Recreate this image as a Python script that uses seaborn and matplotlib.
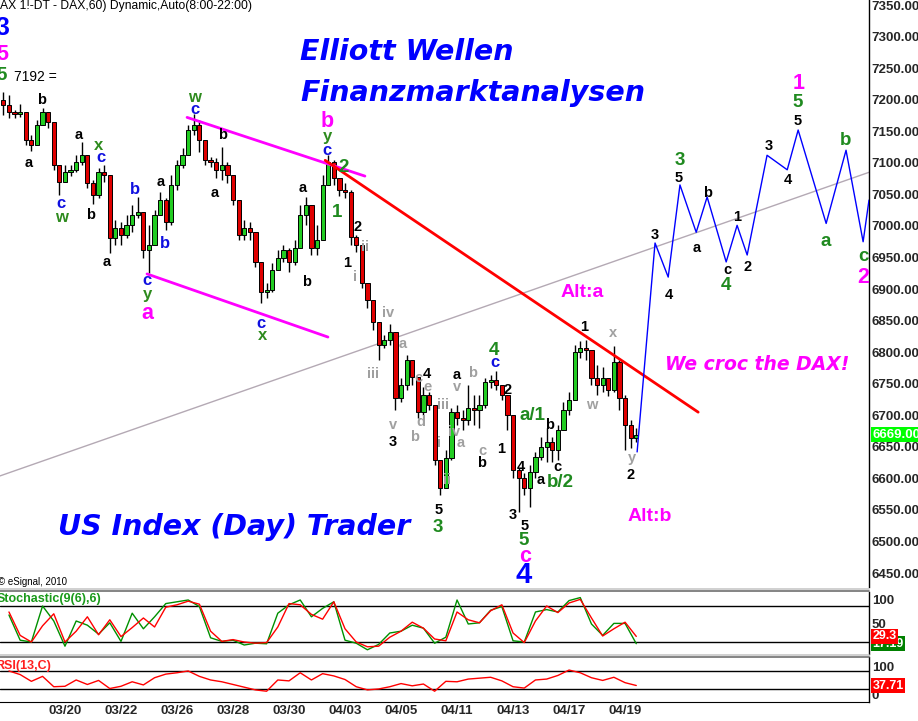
import numpy as np
import pandas as pd
import matplotlib
matplotlib.use("Agg")
import matplotlib.pyplot as plt
import matplotlib.transforms as mtransforms
from matplotlib.lines import Line2D
import seaborn as sns

sns.set_style("white")
plt.rcParams['font.family'] = ['Liberation Sans', 'DejaVu Sans']

# DAX 60 min, ausgedünnt auf 5 Kerzen pro Handelstag (Tag 0 = 16.03.)
first_bar_day = -0.2
bars_per_day = 5
first_open = 7200
closes = [7192, 7180, 7177, 7180, 7136, 7128, 7160, 7180, 7165, 7096,
          7070, 7085, 7089, 7101, 7112, 7068, 7049, 7085, 7081, 6981,
          6997, 6986, 7001, 7017, 7022, 6962, 6970, 7017, 7041, 7006,
          7065, 7096, 7112, 7152, 7160, 7136, 7104, 7101, 7089, 7096,
          7081, 7041, 6986, 6997, 6990, 6943, 6895, 6898, 6930, 6949,
          6962, 6943, 6965, 7017, 7033, 6965, 6978, 7065, 7101, 7076,
          7057, 7054, 6982, 6970, 6909, 6883, 6848, 6811, 6819, 6832,
          6727, 6748, 6787, 6761, 6705, 6732, 6716, 6629, 6585, 6632,
          6705, 6696, 6692, 6711, 6708, 6716, 6753, 6756, 6748, 6732,
          6700, 6613, 6600, 6585, 6610, 6634, 6650, 6658, 6645, 6677,
          6708, 6724, 6800, 6806, 6803, 6759, 6748, 6759, 6740, 6784,
          6727, 6684, 6664, 6669]
highs = [7212, 7207, 7184, 7193, 7176, 7144, 7168, 7187, 7177, 7160,
         7092, 7096, 7096, 7112, 7133, 7104, 7073, 7092, 7096, 7076,
         7009, 7006, 7017, 7033, 7046, 7017, 7001, 7025, 7054, 7044,
         7081, 7104, 7123, 7160, 7177, 7168, 7128, 7109, 7108, 7125,
         7101, 7081, 7041, 7009, 7006, 6990, 6943, 6909, 6941, 6962,
         6970, 6965, 6978, 7033, 7046, 7033, 7001, 7081, 7112, 7104,
         7076, 7068, 7057, 6986, 6970, 6909, 6875, 6843, 6827, 6844,
         6827, 6759, 6795, 6784, 6761, 6745, 6737, 6716, 6629, 6645,
         6711, 6716, 6708, 6748, 6732, 6732, 6759, 6764, 6770, 6748,
         6732, 6700, 6616, 6608, 6621, 6642, 6665, 6680, 6665, 6684,
         6721, 6737, 6811, 6818, 6819, 6803, 6780, 6776, 6759, 6810,
         6787, 6732, 6692, 6680]
lows = [7176, 7171, 7171, 7173, 7128, 7119, 7128, 7160, 7155, 7089,
        7049, 7070, 7079, 7085, 7096, 7060, 7035, 7044, 7070, 6957,
        6970, 6970, 6981, 6990, 7013, 6949, 6925, 6970, 7017, 6993,
        7001, 7057, 7092, 7120, 7144, 7117, 7096, 7093, 7076, 7073,
        7068, 7033, 6978, 6978, 6978, 6935, 6878, 6886, 6895, 6930,
        6943, 6927, 6938, 6965, 7001, 6954, 6954, 6978, 7073, 7065,
        7047, 7044, 6970, 6959, 6902, 6870, 6835, 6788, 6806, 6811,
        6708, 6721, 6740, 6748, 6696, 6700, 6708, 6621, 6574, 6585,
        6629, 6684, 6677, 6684, 6684, 6680, 6711, 6743, 6740, 6724,
        6677, 6600, 6547, 6574, 6555, 6600, 6629, 6626, 6626, 6629,
        6684, 6700, 6724, 6791, 6788, 6748, 6732, 6737, 6730, 6737,
        6708, 6645, 6648, 6658]

# Indikatoren, jede zweite Kerze
stoch_k = [65, 23, 20, 80, 55, 13, 55, 48, 33, 52, 21, 68, 42, 62, 84, 87, 90, 79, 27,
           21, 23, 15, 18, 17, 68, 82, 90, 62, 76, 87, 23, 18, 7, 16, 35, 38, 48, 43,
           18, 28, 90, 50, 52, 73, 79, 22, 20, 70, 74, 70, 89, 94, 50, 31, 51, 51, 17.19]
stoch_d = [70, 31, 20, 47, 67, 20, 38, 62, 32, 57, 29, 44, 60, 45, 78, 82, 88, 83, 38,
           21, 24, 20, 18, 19, 45, 84, 82, 66, 58, 87, 42, 20, 12, 13, 28, 38, 53, 43,
           25, 22, 70, 57, 52, 72, 82, 35, 19, 55, 80, 69, 85, 91, 60, 30, 42, 53, 29.3]
rsi = [70, 62, 47, 58, 35, 36, 50, 40, 49, 31, 36, 46, 39, 55, 63, 66, 70, 58, 50,
       46, 40, 34, 28, 25, 50, 48, 66, 50, 64, 59, 51, 35, 28, 30, 35, 42, 37, 41,
       25, 47, 46, 52, 54, 56, 48, 35, 32, 50, 52, 60, 72, 66, 55, 49, 56, 44, 37.71]

# Prognose (blaue Linie)
proj_days = [22.43, 23.07, 23.54, 23.96, 24.54, 24.93, 25.61, 26.0, 26.36,
             27.07, 27.79, 28.18, 29.18, 29.89, 30.5, 30.71]
proj_prices = [6642, 6973, 6919, 7065, 6990, 7046, 6943, 7001, 6954,
               7112, 7089, 7152, 7004, 7120, 6975, 7041]

# Trendlinien
upper_channel = ([6.36, 12.71], [7172, 7079])
lower_channel = ([4.93, 11.39], [6924, 6824])
red_trend = ([11.29, 24.61], [7104, 6705])
gray_trend = ([-0.32, 30.71], [6604, 7085])

date_days = [2, 4, 6, 8, 10, 12, 14, 16, 18, 20, 22]
date_labels = ["03/20", "03/22", "03/26", "03/28", "03/30", "04/03",
               "04/05", "04/11", "04/13", "04/17", "04/19"]

styles = {
    "k": ("black", 10.5), "bl": ("#1010e0", 12), "g": ("#2e8b1e", 12),
    "G": ("#1f8a1f", 13.5), "gr": ("#a0a0a0", 10.5), "m": ("#ff00ff", 15.5),
    "B": ("#0000ff", 21), "B3": ("#0000ff", 18),
}
wave_labels = [
    (-0.25, 7314, "3", "B3"), (-0.25, 7272, "5", "m"), (-0.25, 7239, "5", "G"),
    (1.18, 7200, "b", "k"), (0.71, 7100, "a", "k"), (2.50, 7144, "a", "k"),
    (3.21, 7127, "x", "g"), (3.29, 7108, "c", "bl"), (1.86, 7035, "c", "bl"),
    (1.89, 7014, "w", "g"), (2.93, 7017, "b", "k"), (4.50, 7058, "b", "bl"),
    (3.50, 6943, "a", "k"), (5.43, 7070, "a", "k"), (5.57, 6973, "b", "bl"),
    (4.93, 6913, "c", "bl"), (4.93, 6891, "y", "g"), (4.93, 6862, "a", "m"),
    (6.64, 7204, "w", "g"), (6.64, 7184, "c", "bl"), (7.64, 7144, "b", "k"),
    (7.36, 7052, "a", "k"), (9.00, 6846, "c", "bl"), (9.04, 6826, "x", "g"),
    (10.61, 6911, "b", "k"), (10.50, 7060, "a", "k"), (11.36, 7165, "b", "m"),
    (11.36, 7142, "y", "g"), (11.36, 7119, "c", "bl"), (11.96, 7093, "2", "G"),
    (11.71, 7022, "1", "G"), (12.43, 6998, "2", "k"), (12.71, 6967, "ii", "gr"),
    (12.07, 6941, "1", "k"), (12.36, 6919, "i", "gr"), (13.54, 6862, "iv", "gr"),
    (13.00, 6765, "iii", "gr"), (14.07, 6813, "a", "gr"), (14.93, 6765, "4", "k"),
    (14.61, 6759, "c", "gr"), (14.93, 6745, "e", "gr"), (16.00, 6764, "a", "k"),
    (16.00, 6745, "v", "gr"), (13.71, 6685, "v", "gr"), (13.71, 6658, "3", "k"),
    (14.71, 6689, "d", "gr"), (14.50, 6666, "b", "gr"), (15.50, 6716, "iii", "gr"),
    (15.36, 6656, "i", "gr"), (15.64, 6597, "ii", "gr"), (15.89, 6673, "iv", "gr"),
    (15.36, 6550, "5", "k"), (15.32, 6523, "3", "G"), (16.14, 6656, "a", "gr"),
    (16.57, 6767, "b", "gr"), (17.32, 6803, "4", "G"), (17.36, 6784, "c", "bl"),
    (17.82, 6740, "2", "k"), (16.89, 6643, "c", "gr"), (16.86, 6624, "b", "k"),
    (17.57, 6647, "1", "k"), (18.68, 6699, "a/1", "G"), (19.29, 6685, "b", "k"),
    (18.29, 6618, "4", "k"), (19.57, 6618, "c", "k"), (19.00, 6597, "a", "k"),
    (19.68, 6593, "b/2", "G"), (18.00, 6542, "3", "k"), (18.43, 6525, "5", "k"),
    (18.39, 6501, "5", "G"), (18.43, 6477, "c", "m"), (18.39, 6447, "4", "B"),
    (22.25, 6632, "y", "gr"), (22.21, 6605, "2", "k"), (20.82, 6716, "w", "gr"),
    (20.54, 6840, "1", "k"), (21.57, 6830, "x", "gr"), (23.07, 6986, "3", "k"),
    (23.57, 6891, "4", "k"), (24.57, 6965, "a", "k"), (26.00, 7014, "1", "k"),
    (25.64, 6930, "c", "k"), (25.61, 6906, "4", "G"), (26.36, 6935, "2", "k"),
    (29.18, 6976, "a", "G"), (30.50, 6951, "c", "G"), (30.50, 6919, "2", "m"),
    (23.96, 7104, "3", "G"), (23.93, 7076, "5", "k"), (24.93, 7052, "b", "k"),
    (27.14, 7127, "3", "k"), (27.82, 7073, "4", "k"), (28.18, 7166, "5", "k"),
    (28.18, 7195, "5", "G"), (28.18, 7226, "1", "m"), (29.86, 7136, "b", "G"),
]

W, H = 918, 721


def px_rect(left, top, right, bottom):
    return [left / W, 1 - bottom / H, (right - left) / W, (bottom - top) / H]


df = pd.DataFrame({"close": closes, "high": highs, "low": lows})
df["day"] = first_bar_day + np.arange(len(df)) / bars_per_day
df["open"] = df["close"].shift(1).fillna(first_open)
df["high"] = df[["high", "open", "close"]].max(axis=1)
df["low"] = df[["low", "open", "close"]].min(axis=1)
up = df["close"] >= df["open"]

osc = pd.DataFrame({"day": df["day"].iloc[1::2].values,
                    "k": stoch_k, "d": stoch_d, "rsi": rsi})

fig = plt.figure(figsize=(W / 100, H / 100), dpi=100)
ax = fig.add_axes(px_rect(0, 0, 869, 587))
ax_st = fig.add_axes(px_rect(0, 592, 869, 654))
ax_rsi = fig.add_axes(px_rect(0, 657, 869, 702))
xlim = (-0.32, 30.71)

# Hauptchart
ax.plot(*gray_trend, color="#b4a9b4", lw=1, zorder=1)
ax.vlines(df["day"], df["low"], df["high"], color="black", lw=1, zorder=2)
ax.bar(df["day"], df["close"] - df["open"], bottom=df["open"], width=0.15,
       color=np.where(up, "#22cc22", "#e00000"), edgecolor="black",
       linewidth=0.7, zorder=3)
ax.plot(*upper_channel, color="#ff00ff", lw=2, zorder=4)
ax.plot(*lower_channel, color="#ff00ff", lw=2, zorder=4)
ax.plot(*red_trend, color="#ff0000", lw=2, zorder=4)
sns.lineplot(x=proj_days, y=proj_prices, ax=ax, color="#0000ff", lw=1,
             sort=False, estimator=None, zorder=4)

for d, p, t, s in wave_labels:
    c, fs = styles[s]
    ax.text(d, p, t, color=c, fontsize=fs, fontweight="bold",
            ha="center", va="center", zorder=6)

ax.text(20.46, 6894, "Alt:a", color="#ff00ff", fontsize=14, fontweight="bold",
        ha="center", va="center")
ax.text(22.89, 6540, "Alt:b", color="#ff00ff", fontsize=14, fontweight="bold",
        ha="center", va="center")
ax.text(26.71, 6780, "We croc the DAX!", color="#ff00ff", fontsize=13.5,
        fontweight="bold", fontstyle="italic", family="DejaVu Sans",
        ha="center", va="center")
ax.text(0.18, 7236, "7192 =", color="black", fontsize=10, ha="left", va="center")

ax.set_xlim(xlim)
ax.set_ylim(6428, 7358)
ax.yaxis.tick_right()
yt = np.arange(6450, 7351, 50)
ax.set_yticks(yt, [f"{v:.2f}" for v in yt], fontweight="bold", fontsize=9.5)
ax.tick_params(axis="y", length=0, pad=2)
ax.tick_params(axis="x", bottom=False, labelbottom=False)

right_lbl = mtransforms.blended_transform_factory(ax.transAxes, ax.transData)
ax.text(1.004, closes[-1], f"{closes[-1]:.2f}", transform=right_lbl, color="white",
        fontsize=9.5, fontweight="bold", ha="left", va="center", zorder=10,
        bbox=dict(boxstyle="square,pad=0.12", fc="#00ff00", ec="none"))

# Stochastik
ax_st.axhline(80, color="black", lw=1)
ax_st.axhline(20, color="black", lw=1)
sns.lineplot(data=osc, x="day", y="k", ax=ax_st, color="#009000", lw=1)
sns.lineplot(data=osc, x="day", y="d", ax=ax_st, color="#ff0000", lw=1)
ax_st.set_xlim(xlim)
ax_st.set_ylim(0, 103.3)
ax_st.yaxis.tick_right()
ax_st.set_yticks([91, 50], ["100", "50"], fontweight="bold", fontsize=9.5)
ax_st.tick_params(axis="y", length=0, pad=2)
ax_st.tick_params(axis="x", bottom=False, labelbottom=False)
ax_st.text(-0.004, 0.88, "Stochastic(9(6),6)", transform=ax_st.transAxes,
           color="#1a9a1a", fontsize=9, fontweight="bold", va="center")
st_lbl = mtransforms.blended_transform_factory(ax_st.transAxes, ax_st.transData)
ax_st.text(1.004, stoch_k[-1], f"{stoch_k[-1]:.2f}", transform=st_lbl, color="white",
           fontsize=9, fontweight="bold", va="center", zorder=10,
           bbox=dict(boxstyle="square,pad=0.12", fc="#008000", ec="none"))
ax_st.text(1.004, stoch_d[-1], f"{stoch_d[-1]:.1f}", transform=st_lbl, color="white",
           fontsize=9, fontweight="bold", va="center", zorder=11,
           bbox=dict(boxstyle="square,pad=0.12", fc="#ff0000", ec="none"))

# RSI
ax_rsi.axhline(70, color="black", lw=1)
ax_rsi.axhline(30, color="black", lw=1)
sns.lineplot(data=osc, x="day", y="rsi", ax=ax_rsi, color="#ff0000", lw=1)
ax_rsi.set_xlim(xlim)
ax_rsi.set_ylim(1.1, 101)
ax_rsi.yaxis.tick_right()
ax_rsi.set_yticks([79, 17], ["100", "0"], fontweight="bold", fontsize=9.5)
ax_rsi.tick_params(axis="y", length=0, pad=2)
ax_rsi.set_xticks(date_days, date_labels, fontweight="bold", fontsize=9.5)
ax_rsi.tick_params(axis="x", length=0, pad=2)
ax_rsi.text(-0.006, 0.8, "RSI(13,C)", transform=ax_rsi.transAxes,
            color="#ff2020", fontsize=9, fontweight="bold", va="center")
rsi_lbl = mtransforms.blended_transform_factory(ax_rsi.transAxes, ax_rsi.transData)
ax_rsi.text(1.004, rsi[-1], f"{rsi[-1]:.2f}", transform=rsi_lbl, color="white",
            fontsize=9, fontweight="bold", va="center", zorder=10,
            bbox=dict(boxstyle="square,pad=0.12", fc="#ff0000", ec="none"))

for a in (ax, ax_st, ax_rsi):
    a.set_xlabel("")
    a.set_ylabel("")
    for side in ("top", "left", "bottom"):
        a.spines[side].set_visible(False)
    a.spines["right"].set_color("black")
    a.spines["right"].set_linewidth(1)
ax_rsi.spines["bottom"].set_visible(True)
ax_rsi.spines["bottom"].set_color("black")

# Trennlinien zwischen den Fenstern
for yy, col in ((588.5, "#c8c8c8"), (590.5, "#707070"), (654.5, "#c8c8c8"), (656.5, "#707070")):
    fig.add_artist(Line2D([0, 869 / W], [1 - yy / H, 1 - yy / H], color=col, lw=1.2))

# Überschriften
title_font = dict(color="#0000ff", fontsize=20.5, fontweight="bold", fontstyle="italic",
                  family="DejaVu Sans", va="center", ha="left")
fig.text(0.0, 1 - 6 / H, "AX 1!-DT - DAX,60) Dynamic,Auto(8:00-22:00)",
         fontsize=8.7, color="black", va="center", ha="left")
fig.text(300 / W, 1 - 52 / H, "Elliott Wellen", **title_font)
fig.text(300 / W, 1 - 93 / H, "Finanzmarktanalysen", **title_font)
fig.text(58 / W, 1 - 527 / H, "US Index (Day) Trader", **title_font)
fig.text(-0.002, 1 - 582 / H, "© eSignal, 2010", fontsize=7, color="black",
         va="center", ha="left")

fig.savefig("out.png", dpi=100)
